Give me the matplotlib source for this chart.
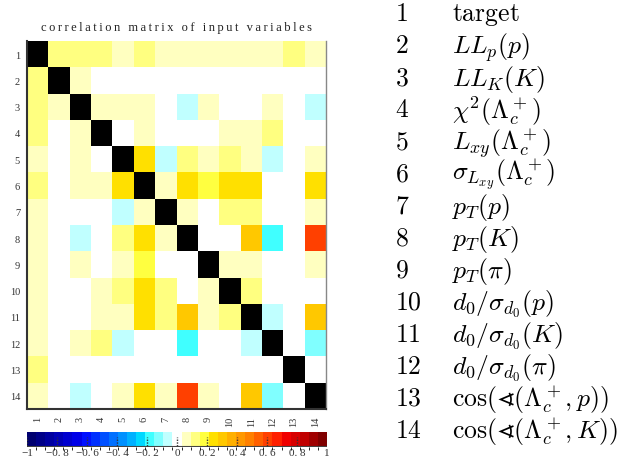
import numpy as np
import matplotlib
matplotlib.use('agg')
import matplotlib.pyplot as plt
import matplotlib.colors as colors

# variable numbering and names
var_ids = list(range(1, 15))
var_names = [r'$\mathrm{target}$', r'$LL_p(p)$', r'$LL_K(K)$',
             r'$\chi^2(\Lambda_c^+)$', r'$L_{xy}(\Lambda_c^+)$',
             r'$\sigma_{L_{xy}}(\Lambda_c^+)$', r'$p_T(p)$', r'$p_T(K)$',
             r'$p_T(\pi)$', r'$d_0/\sigma_{d_0}(p)$', r'$d_0/\sigma_{d_0}(K)$',
             r'$d_0/\sigma_{d_0}(\pi)$',
             r'$\cos(\sphericalangle(\Lambda_c^+,p))$',
             r'$\cos(\sphericalangle(\Lambda_c^+,K))$']

# correlation coefficients (upper triangle incl. diagonal, rows 1..14)
corr_upper = [
    [1.0, 0.12, 0.12, 0.12, 0.06, 0.12, 0.06, 0.06, 0.06, 0.06, 0.06, 0.06, 0.12, 0.06],
    [1.0, 0.06, 0.0, 0.0, 0.0, 0.0, 0.0, 0.0, 0.0, 0.0, 0.0, 0.0, 0.0],
    [1.0, 0.06, 0.06, 0.06, 0.0, -0.06, 0.06, 0.0, 0.0, 0.06, 0.0, -0.06],
    [1.0, 0.0, 0.06, 0.0, 0.0, 0.0, 0.06, 0.06, 0.12, 0.0, 0.0],
    [1.0, 0.24, -0.06, 0.12, 0.06, 0.12, 0.06, -0.06, 0.0, 0.06],
    [1.0, 0.06, 0.24, 0.18, 0.24, 0.24, 0.0, 0.0, 0.24],
    [1.0, 0.06, 0.0, 0.12, 0.12, 0.0, 0.0, 0.06],
    [1.0, 0.0, 0.0, 0.30, -0.18, 0.0, 0.60],
    [1.0, 0.06, 0.06, 0.0, 0.0, 0.06],
    [1.0, 0.12, 0.0, 0.0, 0.0],
    [1.0, -0.06, 0.0, 0.30],
    [1.0, 0.0, -0.12],
    [1.0, 0.0],
    [1.0],
]

cbar_ticks = [-1, -0.8, -0.6, -0.4, -0.2, 0, 0.2, 0.4, 0.6, 0.8, 1]
cbar_ticklabels = ['\u22121', '\u22120. 8', '\u22120. 6', '\u22120. 4', '\u22120. 2',
                   '0', '0. 2', '0. 4', '0. 6', '0. 8', '1']

palette = ['#000070', '#000088', '#0000a0', '#0000b8', '#0000d0', '#0000e8',
           '#0010ff', '#0030ff', '#0050ff', '#0070ff', '#0090ff', '#00b0ff',
           '#00d8ff', '#40ffff', '#80ffff', '#c0ffff', '#ffffff',
           '#ffffc0', '#ffff80', '#ffff40', '#ffe000', '#ffc800', '#ffb000',
           '#ff9800', '#ff8000', '#ff6000', '#ff4000', '#ff2000', '#f00000',
           '#d80000', '#c00000', '#a00000', '#800000']

n = len(var_ids)
corr = np.zeros((n, n))
for i, row in enumerate(corr_upper):
    corr[i, i:] = row
corr = corr + corr.T - np.diag(np.diag(corr))

cmap = colors.ListedColormap(palette)
cmap.set_bad('black')
bounds = np.linspace(-1, 1, len(palette) + 1)
norm = colors.BoundaryNorm(bounds, cmap.N)

shown = np.ma.masked_where(np.eye(n, dtype=bool), corr)

plt.rcParams['font.family'] = 'Liberation Serif'
plt.rcParams['mathtext.fontset'] = 'cm'

fig = plt.figure(figsize=(6.21, 4.60), dpi=100)
ax = fig.add_axes([27/621, 50/460, 299/621, 368/460])
ax.pcolormesh(np.arange(n + 1) + 0.5, np.arange(n + 1) + 0.5, shown,
              cmap=cmap, norm=norm)
ax.set_xlim(0.5, n + 0.5)
ax.set_ylim(n + 0.5, 0.5)
ax.set_xticks(var_ids)
ax.set_yticks(var_ids)
ax.set_xticklabels([str(v) for v in var_ids], rotation=90, fontsize=7.5, color='#333333')
ax.set_yticklabels([str(v) for v in var_ids], fontsize=7.5, color='#333333')
ax.tick_params(length=0, pad=5)
ax.spines['top'].set_visible(False)
ax.spines['right'].set_color('#888888')
ax.spines['right'].set_linewidth(1.0)
for s in ['left', 'bottom']:
    ax.spines[s].set_color('#333333')
    ax.spines[s].set_linewidth(1.5)
# widely spaced title letters
title = 'correlation matrix of input variables'
ax.set_title('\u2009'.join(title), fontsize=9, pad=8, color='#222222')

# colour scale
cax = fig.add_axes([27/621, 12/460, 300/621, 15/460])
sm = matplotlib.cm.ScalarMappable(norm=norm, cmap=cmap)
cbar = fig.colorbar(sm, cax=cax, orientation='horizontal', ticks=cbar_ticks)
cbar.outline.set_visible(False)
cbar.ax.set_xticklabels(cbar_ticklabels, fontsize=8, color='#333333')
cbar.ax.tick_params(length=0, pad=1)
cax.axhline(0, color='#444444', lw=1.5)
for t in cbar_ticks:
    cax.plot([t, t], [0.05, 0.7], ls=(0, (1, 1)), color='#333333', lw=1.0)

# variable legend
lax = fig.add_axes([395/621, 12/460, 226/621, 449/460])
lax.set_xlim(0, 1)
lax.set_ylim(n + 0.5, 0.5)
lax.axis('off')
for v, name in zip(var_ids, var_names):
    lax.text(0, v, r'$%d$' % v, fontsize=18.5, va='center', ha='left')
    lax.text(57/226, v, name, fontsize=18.5, va='center', ha='left')

fig.savefig('out.png', dpi=100)
